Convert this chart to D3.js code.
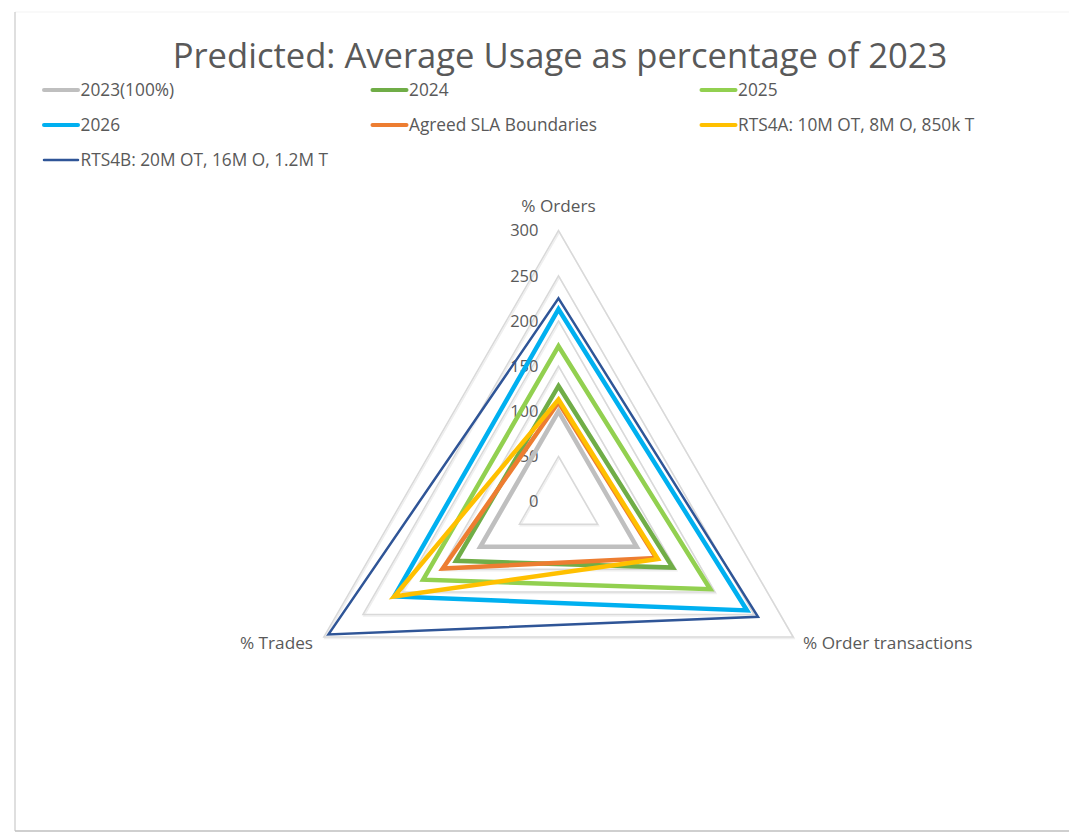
<!DOCTYPE html>
<html>
<head>
<meta charset="utf-8">
<script src="https://cdn.jsdelivr.net/npm/d3@7"></script>
<style>
  body { margin: 0; background: #fff; }
  text { font-family: 'Open Sans', sans-serif; fill: #595959; }
</style>
</head>
<body>
<div id="chart"></div>
<script>
// Axes of the radar, clockwise from the top
const axes = ['% Orders', '% Order transactions', '% Trades'];
const ticks = [0, 50, 100, 150, 200, 250, 300];

const seriesNames = [
  '2023(100%)',
  '2024',
  '2025',
  '2026',
  'Agreed SLA Boundaries',
  'RTS4A: 10M OT, 8M O, 850k T',
  'RTS4B: 20M OT, 16M O, 1.2M T',
];
const v2023 = [100, 100, 100];
const v2024 = [128, 146, 131];
const v2025 = [172, 194, 173];
const v2026 = [213, 241, 210];
const vSla = [110, 125, 148];
const vRts4a = [113, 127, 210];
const vRts4b = [225, 255, 294];
const seriesValues = [v2023, v2024, v2025, v2026, vSla, vRts4a, vRts4b];

const colors = ['#bfbfbf', '#70ad47', '#92d050', '#00b0f0', '#ed7d31', '#ffc000', '#2f5597'];
const widths = [4.5, 4.5, 4.5, 4.5, 4.5, 4.5, 2.5];

const W = 1069;
const H = 836;
const cx = 558.5;
const cy = 501.6;
const R = 271;

const svg = d3
  .select('#chart')
  .append('svg')
  .attr('width', W)
  .attr('height', H);

// chart frame
svg.append('line').attr('x1', 15).attr('x2', W).attr('y1', 12).attr('y2', 12)
  .attr('stroke', '#f3f3f3').attr('stroke-width', 1);
svg.append('line').attr('x1', 15).attr('x2', 15).attr('y1', 12).attr('y2', 831)
  .attr('stroke', '#bfbfbf').attr('stroke-width', 1);
svg.append('line').attr('x1', 15).attr('x2', W).attr('y1', 831).attr('y2', 831)
  .attr('stroke', '#bfbfbf').attr('stroke-width', 1.5);

// title
svg
  .append('text')
  .attr('x', 560)
  .attr('y', 68)
  .style('text-anchor', 'middle')
  .style('font-size', '34.6px')
  .text('Predicted: Average Usage as percentage of 2023');

// legend, three columns
const legendX = [44, 372.5, 701.5];
const legendY = [90, 125, 160];
const legend = svg
  .selectAll('.legend')
  .data(seriesNames)
  .enter()
  .append('g')
  .attr('class', 'legend')
  .attr('transform', (d, i) => `translate(${legendX[i % 3]},${legendY[Math.floor(i / 3)]})`);

legend
  .append('line')
  .attr('x1', 0)
  .attr('x2', 34)
  .attr('stroke', (d, i) => colors[i])
  .attr('stroke-width', (d, i) => (i === 6 ? 2.5 : 4))
  .attr('stroke-linecap', 'round');

legend
  .append('text')
  .attr('x', 36.5)
  .attr('dy', '0.35em')
  .style('font-size', '17.3px')
  .text(d => d);

const rScale = d3.scaleLinear().domain([0, 300]).range([0, R]);
const angle = i => (i * 2 * Math.PI) / axes.length;

const radarLine = d3
  .lineRadial()
  .angle((d, i) => angle(i))
  .radius(d => rScale(d))
  .curve(d3.curveLinearClosed);

const g = svg.append('g').attr('transform', `translate(${cx},${cy})`);

// gridlines (with a faint Excel-like shadow)
ticks.slice(1).forEach(t => {
  g.append('path')
    .attr('d', radarLine(axes.map(() => t)))
    .attr('transform', 'translate(1,1.5)')
    .attr('fill', 'none')
    .attr('stroke', '#efefef')
    .attr('stroke-width', 1.5);
  g.append('path')
    .attr('d', radarLine(axes.map(() => t)))
    .attr('fill', 'none')
    .attr('stroke', '#d9d9d9')
    .attr('stroke-width', 1.5);
});

// tick labels
g.selectAll('.tick-label')
  .data(ticks)
  .enter()
  .append('text')
  .attr('class', 'tick-label')
  .attr('x', -20)
  .attr('y', d => -rScale(d))
  .attr('dy', '0.35em')
  .style('text-anchor', 'end')
  .style('font-size', '16.5px')
  .text(d => d);

// series
seriesValues.forEach((vals, i) => {
  g.append('path')
    .attr('d', radarLine(vals))
    .attr('fill', 'none')
    .attr('stroke', colors[i])
    .attr('stroke-width', widths[i])
    .attr('stroke-linejoin', 'miter');
});

// axis labels
const labelPos = [
  { x: 0, y: -R - 25, anchor: 'middle' },
  { x: 244.5, y: 141.5, anchor: 'start' },
  { x: -245.5, y: 141.5, anchor: 'end' },
];
axes.forEach((a, i) => {
  g.append('text')
    .attr('x', labelPos[i].x)
    .attr('y', labelPos[i].y)
    .attr('dy', '0.35em')
    .style('text-anchor', labelPos[i].anchor)
    .style('font-size', '17.2px')
    .text(a);
});
</script>
</body>
</html>
